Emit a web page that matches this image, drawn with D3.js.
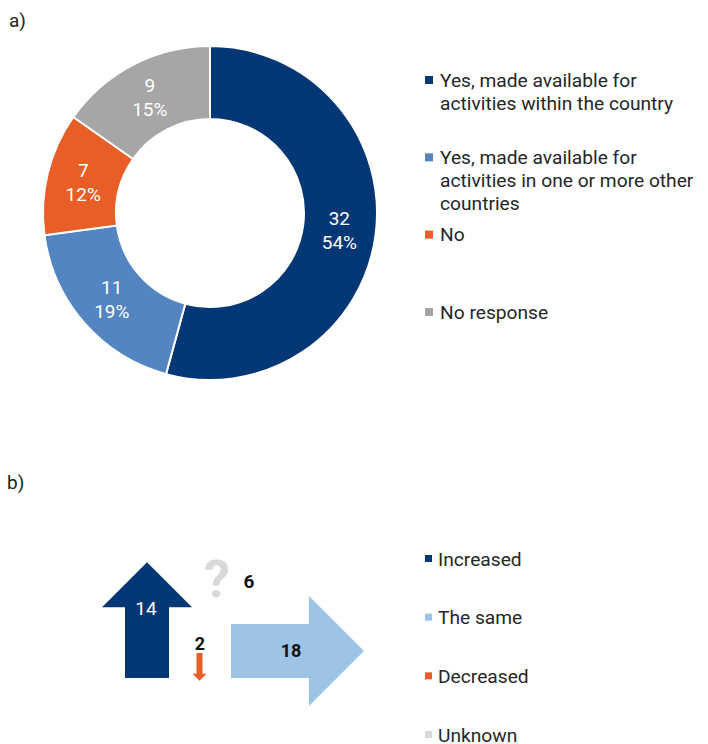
<!DOCTYPE html>
<html>
<head>
<meta charset="utf-8">
<script src="https://cdn.jsdelivr.net/npm/d3@7/dist/d3.min.js"></script>
<style>
  body { margin: 0; background: #fff; }
  svg text { font-family: Roboto, "Open Sans", sans-serif; }
</style>
</head>
<body>
<div id="chart"></div>
<script>
// panel a) data
var answerLabels = [
  ["Yes, made available for", "activities within the country"],
  ["Yes, made available for", "activities in one or more other", "countries"],
  ["No"],
  ["No response"]
];
var answerCounts = [32, 11, 7, 9];
var answerColors = ["#023776", "#5285c1", "#e85e26", "#a6a6a6"];

// panel b) data
var trendLabels = ["Increased", "The same", "Decreased", "Unknown"];
var trendCounts = [14, 18, 2, 6];
var trendColors = ["#023776", "#9dc3e6", "#e85e26", "#d9d9d9"];

var w = 708, h = 744;

var svg = d3.select("#chart")
    .append("svg")
    .attr("width", w)
    .attr("height", h);

svg.append("text").attr("x", 9).attr("y", 27).attr("font-size", "19px").attr("fill", "#222").text("a)");
svg.append("text").attr("x", 7).attr("y", 489).attr("font-size", "19px").attr("fill", "#222").text("b)");

// ---- donut ----
var cx = 210, cy = 213, outerR = 167, innerR = 94;
var total = d3.sum(answerCounts);

var pie = d3.pie().sort(null).value((d) => d)(answerCounts);
var arc = d3.arc().innerRadius(innerR).outerRadius(outerR);
var labelArc = d3.arc().innerRadius((innerR + outerR) / 2).outerRadius((innerR + outerR) / 2);

var donut = svg.append("g").attr("transform", `translate(${cx},${cy})`);

donut.selectAll("path")
    .data(pie)
    .enter()
    .append("path")
    .attr("d", arc)
    .attr("fill", (d, i) => answerColors[i])
    .attr("stroke", "#fff")
    .attr("stroke-width", 2);

var lbl = donut.selectAll(".slabel")
    .data(pie)
    .enter()
    .append("text")
    .attr("class", "slabel")
    .attr("transform", (d) => `translate(${labelArc.centroid(d)})`)
    .attr("text-anchor", "middle")
    .attr("font-size", "19px")
    .attr("fill", "#fff");
lbl.append("tspan").attr("x", 0).attr("y", -5).text((d) => d.data);
lbl.append("tspan").attr("x", 0).attr("y", 19).text((d) => Math.round(d.data / total * 100) + "%");

// legend a
var legA = svg.append("g");
var legAy = d3.scaleLinear().domain([0, 3]).range([80, 312]);
answerLabels.forEach(function (lines, i) {
    var y = legAy(i);
    legA.append("rect")
        .attr("x", 425).attr("y", y - 4).attr("width", 8).attr("height", 8)
        .attr("fill", answerColors[i]);
    var t = legA.append("text")
        .attr("font-size", "19.2px")
        .attr("fill", "#262626");
    lines.forEach(function (line, j) {
        t.append("tspan").attr("x", 440).attr("y", y + 6.5 + j * 23).text(line);
    });
});

// ---- arrows ----
// length and thickness follow the counts
var lenScale = d3.scalePow().exponent(0.55).domain([0, 18]).range([0, 133]);
var thickScale = d3.scaleLinear().domain([0, 18]).range([0, 54]);

// arrow drawn pointing along +x from origin, shaft starts at 0
function arrowPath(len, thick) {
    var headW = thick * 2 + 2;
    var headL = Math.min(headW / 2, len * 0.45);
    return d3.line()([
        [0, -thick / 2], [len - headL, -thick / 2], [len - headL, -headW / 2],
        [len, 0], [len - headL, headW / 2], [len - headL, thick / 2], [0, thick / 2]
    ]) + "Z";
}

var arrows = svg.append("g");

// increased: up arrow
arrows.append("path")
    .attr("transform", "translate(147,678) rotate(-90)")
    .attr("d", arrowPath(lenScale(trendCounts[0]), thickScale(trendCounts[0]) + 2))
    .attr("fill", trendColors[0]);
arrows.append("text")
    .attr("x", 146).attr("y", 615)
    .attr("text-anchor", "middle").attr("font-size", "19px").attr("fill", "#fff")
    .text(trendCounts[0]);

// the same: right arrow
arrows.append("path")
    .attr("transform", "translate(231,651)")
    .attr("d", arrowPath(lenScale(trendCounts[1]), thickScale(trendCounts[1])))
    .attr("fill", trendColors[1]);
arrows.append("text")
    .attr("x", 291).attr("y", 657)
    .attr("text-anchor", "middle").attr("font-size", "18px").attr("font-weight", "bold").attr("fill", "#111")
    .text(trendCounts[1]);

// decreased: down arrow
arrows.append("path")
    .attr("transform", "translate(199.5,653) rotate(90)")
    .attr("d", arrowPath(lenScale(trendCounts[2]) * 0.7, thickScale(trendCounts[2])))
    .attr("fill", trendColors[2]);
arrows.append("text")
    .attr("x", 200).attr("y", 650)
    .attr("text-anchor", "middle").attr("font-size", "18px").attr("font-weight", "bold").attr("fill", "#111")
    .text(trendCounts[2]);

// unknown: question mark
arrows.append("text")
    .attr("x", 217).attr("y", 597)
    .attr("text-anchor", "middle").attr("font-size", "52px").attr("font-weight", "bold").attr("fill", trendColors[3])
    .text("?");
arrows.append("text")
    .attr("x", 249).attr("y", 588)
    .attr("text-anchor", "middle").attr("font-size", "19px").attr("font-weight", "bold").attr("fill", "#111")
    .text(trendCounts[3]);

// legend b
var legB = svg.append("g");
var legBy = d3.scaleLinear().domain([0, 3]).range([559, 735]);
trendLabels.forEach(function (name, i) {
    var y = legBy(i);
    legB.append("rect")
        .attr("x", 425).attr("y", y - 4).attr("width", 7).attr("height", 7)
        .attr("fill", trendColors[i]);
    legB.append("text")
        .attr("x", 438).attr("y", y + 6.5)
        .attr("font-size", "19.2px")
        .attr("fill", "#262626")
        .text(name);
});
</script>
</body>
</html>
